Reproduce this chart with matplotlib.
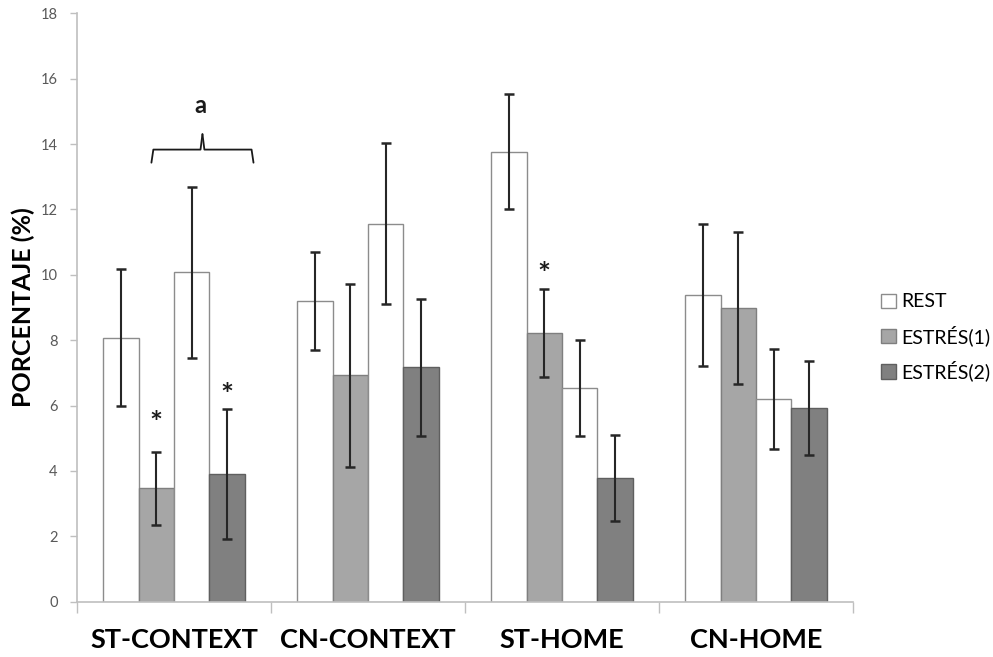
import matplotlib
matplotlib.use("Agg")
import matplotlib.pyplot as plt
import matplotlib.transforms as mtransforms
from matplotlib.textpath import TextPath
from matplotlib.font_manager import FontProperties
import numpy as np

plt.rcParams['font.family'] = ['Lato', 'DejaVu Sans']

groups = ["ST-CONTEXT", "CN-CONTEXT", "ST-HOME", "CN-HOME"]
rest1 = [8.08, 9.20, 13.77, 9.37]
rest1_err = [2.10, 1.50, 1.77, 2.17]
estres1 = [3.47, 6.93, 8.21, 8.99]
estres1_err = [1.12, 2.80, 1.35, 2.33]
rest2 = [10.07, 11.56, 6.54, 6.20]
rest2_err = [2.63, 2.46, 1.47, 1.52]
estres2 = [3.91, 7.17, 3.79, 5.93]
estres2_err = [1.98, 2.10, 1.32, 1.43]
yticks = [0, 2, 4, 6, 8, 10, 12, 14, 16, 18]
legend_labels = ["REST", "ESTRÉS(1)", "ESTRÉS(2)"]

# significance marks: (group index, series index, height of the mark)
stars = [(0, 1, 5.71), (0, 3, 6.57), (2, 1, 10.28)]
# bracket label over ST-CONTEXT
bracket_label = "a"
bracket_y = 13.83

fig = plt.figure(figsize=(9.93, 6.57), dpi=100)
ax = fig.add_axes([0.0775, 0.0842, 0.7815, 0.8956])

x = np.arange(len(groups))
w = 0.1825
series = [rest1, estres1, rest2, estres2]
errs = [rest1_err, estres1_err, rest2_err, estres2_err]
fills = ["#ffffff", "#a6a6a6", "#ffffff", "#808080"]
edges = ["#8c8c8c", "#7f7f7f", "#8c8c8c", "#5f5f5f"]
bar_handles = []
for k, (vals, er) in enumerate(zip(series, errs)):
    pos = x + (k - 1.5) * w
    b = ax.bar(pos, vals, width=w, color=fills[k], edgecolor=edges[k], linewidth=1.0, zorder=2)
    ax.errorbar(pos, vals, yerr=er, fmt='none', ecolor="#262626", elinewidth=1.5,
                capsize=3.5, capthick=1.8, zorder=3)
    bar_handles.append(b)

# center the asterisk glyph's ink on the requested height
star_size = 22
fp = FontProperties(family=['Lato', 'DejaVu Sans'], weight='bold', size=star_size)
ext = TextPath((0, 0), "*", size=star_size, prop=fp).get_extents()
ink_mid = (ext.y0 + ext.y1) / 2.0
star_tr = mtransforms.offset_copy(ax.transData, fig=fig, x=0, y=-ink_mid, units='points')
for gi, si, sy in stars:
    px = x[gi] + (si - 1.5) * w
    ax.text(px, sy, "*", ha="center", va="baseline", fontproperties=fp,
            color="#1a1a1a", transform=star_tr)

# bracket with "a" over ST-CONTEXT
bx0 = x[0] + (1 - 1.5) * w - 0.025
bx1 = x[0] + (3 - 1.5) * w + w / 2 + 0.045
bm = (bx0 + bx1) / 2
yb = bracket_y
yend, ytip = yb - 0.4, yb + 0.47
ax.plot([bx0, bx0 + 0.01, bm - 0.01, bm], [yend, yb, yb, ytip], color="#1a1a1a", lw=1.3,
        solid_capstyle='round', zorder=4)
ax.plot([bx1, bx1 - 0.01, bm + 0.01, bm], [yend, yb, yb, ytip], color="#1a1a1a", lw=1.3,
        solid_capstyle='round', zorder=4)
ax.text(bm - 0.01, yb + 1.0, bracket_label, ha="center", va="bottom", fontsize=17,
        fontweight="bold", color="#1a1a1a")

ax.set_xlim(-0.5, len(groups) - 0.5)
ax.set_ylim(0, 18)
ax.set_yticks(yticks)
ax.set_yticklabels([str(t) for t in yticks], fontsize=10.5, color="#595959")
ax.tick_params(axis='y', length=5, color="#bfbfbf", width=1, pad=9)

ax.set_xticks(np.arange(-0.5, len(groups), 1.0))
ax.set_xticklabels([])
ax.tick_params(axis='x', which='major', length=8, color="#bfbfbf", width=1, direction='out')
ax.set_xticks(x, minor=True)
ax.set_xticklabels(groups, minor=True, fontsize=19.5, fontweight="bold", color="#000000")
ax.tick_params(axis='x', which='minor', length=0, pad=19)

for s in ["top", "right"]:
    ax.spines[s].set_visible(False)
for s in ["left", "bottom"]:
    ax.spines[s].set_color("#bfbfbf")
    ax.spines[s].set_linewidth(1.2)

ax.set_ylabel("PORCENTAJE (%)", fontsize=18, fontweight="bold", labelpad=4)

leg = fig.legend([bar_handles[0], bar_handles[1], bar_handles[3]], legend_labels,
                 loc="upper left", bbox_to_anchor=(0.87, 0.58), frameon=False,
                 fontsize=14, handlelength=0.75, handleheight=0.75, handletextpad=0.25,
                 labelspacing=0.75)

fig.savefig("out.png", dpi=100)
